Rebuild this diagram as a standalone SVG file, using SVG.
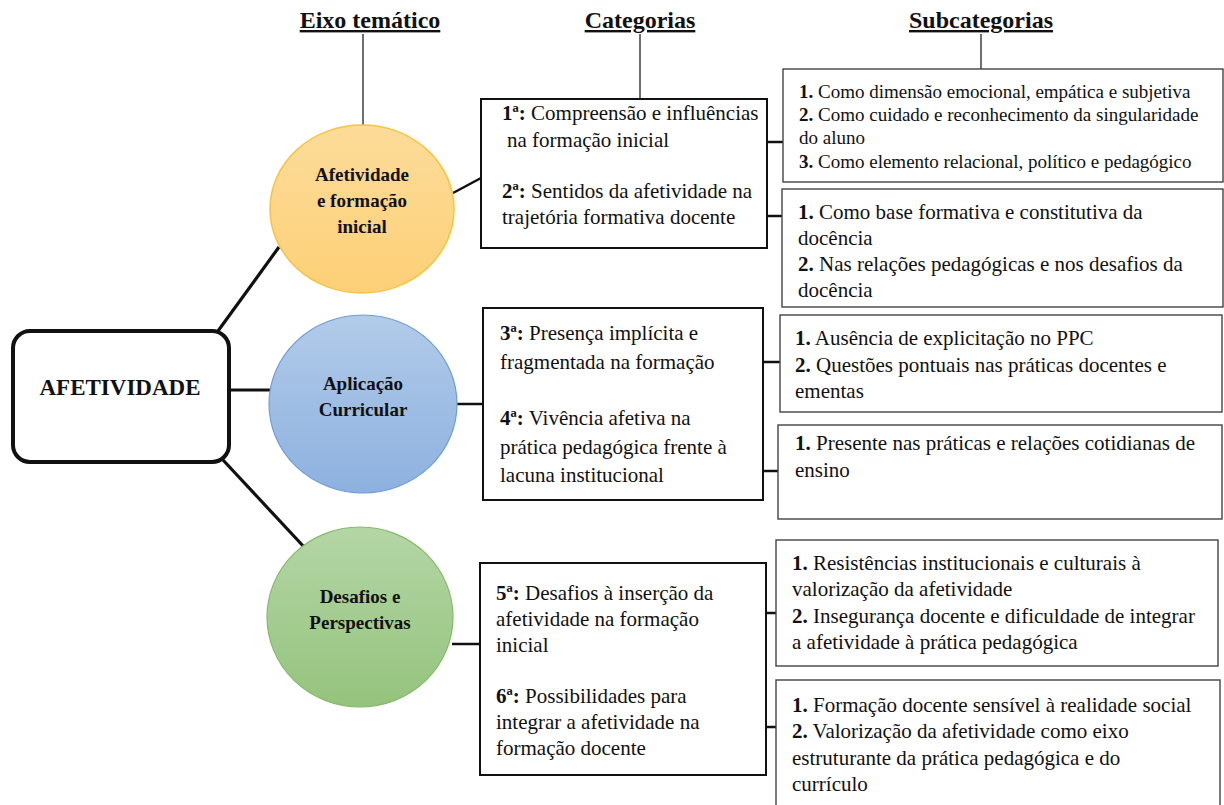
<svg xmlns="http://www.w3.org/2000/svg" width="1224" height="805" viewBox="0 0 1224 805">
<defs>
<linearGradient id="gY" x1="0" y1="0" x2="0" y2="1"><stop offset="0" stop-color="#fcdc9a"/><stop offset="1" stop-color="#fdd077"/></linearGradient>
<linearGradient id="gB" x1="0" y1="0" x2="0" y2="1"><stop offset="0" stop-color="#b2cbe9"/><stop offset="1" stop-color="#8db1df"/></linearGradient>
<linearGradient id="gG" x1="0" y1="0" x2="0" y2="1"><stop offset="0" stop-color="#b4d6a6"/><stop offset="1" stop-color="#95c37d"/></linearGradient>
<style>
text{font-family:"Liberation Serif","Times New Roman",serif;fill:#111;}
.h{font-size:24px;font-weight:bold;text-anchor:middle;text-decoration:underline;}
.c{font-size:19px;font-weight:bold;text-anchor:middle;}
.t{font-size:21px;}
.s{font-size:19px;}
.b{font-weight:bold;}
.cat{fill:#fff;stroke:#111;stroke-width:2;}
.sub{fill:#fff;stroke:#444;stroke-width:1.4;}
.thin{stroke:#222;stroke-width:1.3;fill:none;}
.thick{stroke:#111;stroke-width:3.2;fill:none;}
.mid{stroke:#111;stroke-width:2.5;fill:none;}
</style>
</defs>
<rect width="1224" height="805" fill="#fff"/>

<g id="headers">
<text class="h" x="370" y="28">Eixo temático</text>
<text class="h" x="640" y="28">Categorias</text>
<text class="h" x="981" y="28">Subcategorias</text>
</g>

<g id="connectors">
<line class="thin" x1="363" y1="34" x2="363" y2="125"/>
<line class="thin" x1="640" y1="34" x2="640" y2="99"/>
<line class="thin" x1="981" y1="34" x2="981" y2="69"/>
<line class="thick" x1="218" y1="331" x2="279" y2="247"/>
<line class="thick" x1="230" y1="390" x2="270" y2="390"/>
<line class="thick" x1="223" y1="460" x2="305" y2="548"/>
<line class="mid" x1="453" y1="193" x2="481" y2="178"/>
<line class="mid" x1="457" y1="404" x2="483" y2="404"/>
<line class="mid" x1="452" y1="644" x2="480" y2="644"/>
<line class="mid" x1="767" y1="142" x2="783" y2="142"/>
<line class="mid" x1="767" y1="216" x2="782" y2="216"/>
<line class="mid" x1="763" y1="362" x2="780" y2="362"/>
<line class="mid" x1="763" y1="471" x2="778" y2="471"/>
<line class="mid" x1="766" y1="613" x2="776" y2="613"/>
<line class="mid" x1="766" y1="727" x2="776" y2="727"/>
</g>

<g id="root">
<rect x="13" y="331" width="216" height="131" rx="17" fill="#fff" stroke="#111" stroke-width="4"/>
<text x="120" y="395" font-size="23" font-weight="bold" text-anchor="middle">AFETIVIDADE</text>
</g>

<g id="eixo1">
<ellipse cx="362" cy="209" rx="92" ry="84" fill="url(#gY)" stroke="#f7c443" stroke-width="1.5"/>
<text class="c" x="362" y="181">Afetividade</text>
<text class="c" x="362" y="207">e formação</text>
<text class="c" x="362" y="233">inicial</text>
</g>

<g id="eixo2">
<ellipse cx="363" cy="404" rx="94" ry="89" fill="url(#gB)" stroke="#6f9dd6" stroke-width="1.2"/>
<text class="c" x="363" y="390">Aplicação</text>
<text class="c" x="363" y="416">Curricular</text>
</g>

<g id="eixo3">
<ellipse cx="360" cy="617" rx="93" ry="90" fill="url(#gG)" stroke="#85ba6c" stroke-width="1.2"/>
<text class="c" x="360" y="603">Desafios e</text>
<text class="c" x="360" y="629">Perspectivas</text>
</g>

<g id="cat1">
<rect class="cat" x="481" y="99" width="286" height="149"/>
<text class="t" x="502" y="120"><tspan class="b">1ª:</tspan> Compreensão e influências</text>
<text class="t" x="507" y="147">na formação inicial</text>
<text class="t" x="502" y="198"><tspan class="b">2ª:</tspan> Sentidos da afetividade na</text>
<text class="t" x="502" y="224">trajetória formativa docente</text>
</g>

<g id="cat2">
<rect class="cat" x="483" y="308" width="280" height="192"/>
<text class="t" x="500" y="340"><tspan class="b">3ª:</tspan> Presença implícita e</text>
<text class="t" x="500" y="369">fragmentada na formação</text>
<text class="t" x="500" y="425"><tspan class="b">4ª:</tspan> Vivência afetiva na</text>
<text class="t" x="500" y="454">prática pedagógica frente à</text>
<text class="t" x="500" y="482">lacuna institucional</text>
</g>

<g id="cat3">
<rect class="cat" x="480" y="563" width="286" height="212"/>
<text class="t" x="496" y="600"><tspan class="b">5ª:</tspan> Desafios à inserção da</text>
<text class="t" x="496" y="626">afetividade na formação</text>
<text class="t" x="496" y="652">inicial</text>
<text class="t" x="496" y="703"><tspan class="b">6ª:</tspan> Possibilidades para</text>
<text class="t" x="496" y="729">integrar a afetividade na</text>
<text class="t" x="496" y="755">formação docente</text>
</g>

<g id="sub1a">
<rect class="sub" x="783" y="69" width="440" height="113"/>
<text class="s" x="799" y="98"><tspan class="b">1.</tspan> Como dimensão emocional, empática e subjetiva</text>
<text class="s" x="799" y="121"><tspan class="b">2.</tspan> Como cuidado e reconhecimento da singularidade</text>
<text class="s" x="799" y="144">do aluno</text>
<text class="s" x="799" y="168"><tspan class="b">3.</tspan> Como elemento relacional, político e pedagógico</text>
</g>

<g id="sub1b">
<rect class="sub" x="782" y="189" width="441" height="118"/>
<text class="t" x="798" y="219"><tspan class="b">1.</tspan> Como base formativa e constitutiva da</text>
<text class="t" x="798" y="245">docência</text>
<text class="t" x="798" y="271"><tspan class="b">2.</tspan> Nas relações pedagógicas e nos desafios da</text>
<text class="t" x="798" y="297">docência</text>
</g>

<g id="sub2a">
<rect class="sub" x="780" y="315" width="442" height="97"/>
<text class="t" x="795" y="345"><tspan class="b">1.</tspan> Ausência de explicitação no PPC</text>
<text class="t" x="795" y="372"><tspan class="b">2.</tspan> Questões pontuais nas práticas docentes e</text>
<text class="t" x="795" y="398">ementas</text>
</g>

<g id="sub2b">
<rect class="sub" x="778" y="425" width="444" height="94"/>
<text class="t" x="795" y="450"><tspan class="b">1.</tspan> Presente nas práticas e relações cotidianas de</text>
<text class="t" x="795" y="477">ensino</text>
</g>

<g id="sub3a">
<rect class="sub" x="776" y="540" width="442" height="126"/>
<text class="t" x="792" y="570"><tspan class="b">1.</tspan> Resistências institucionais e culturais à</text>
<text class="t" x="792" y="596">valorização da afetividade</text>
<text class="t" x="792" y="623"><tspan class="b">2.</tspan> Insegurança docente e dificuldade de integrar</text>
<text class="t" x="792" y="649">a afetividade à prática pedagógica</text>
</g>

<g id="sub3b">
<rect class="sub" x="776" y="680" width="444" height="130"/>
<text class="t" x="792" y="712"><tspan class="b">1.</tspan> Formação docente sensível à realidade social</text>
<text class="t" x="792" y="738"><tspan class="b">2.</tspan> Valorização da afetividade como eixo</text>
<text class="t" x="792" y="765">estruturante da prática pedagógica e do</text>
<text class="t" x="792" y="791">currículo</text>
</g>
</svg>
